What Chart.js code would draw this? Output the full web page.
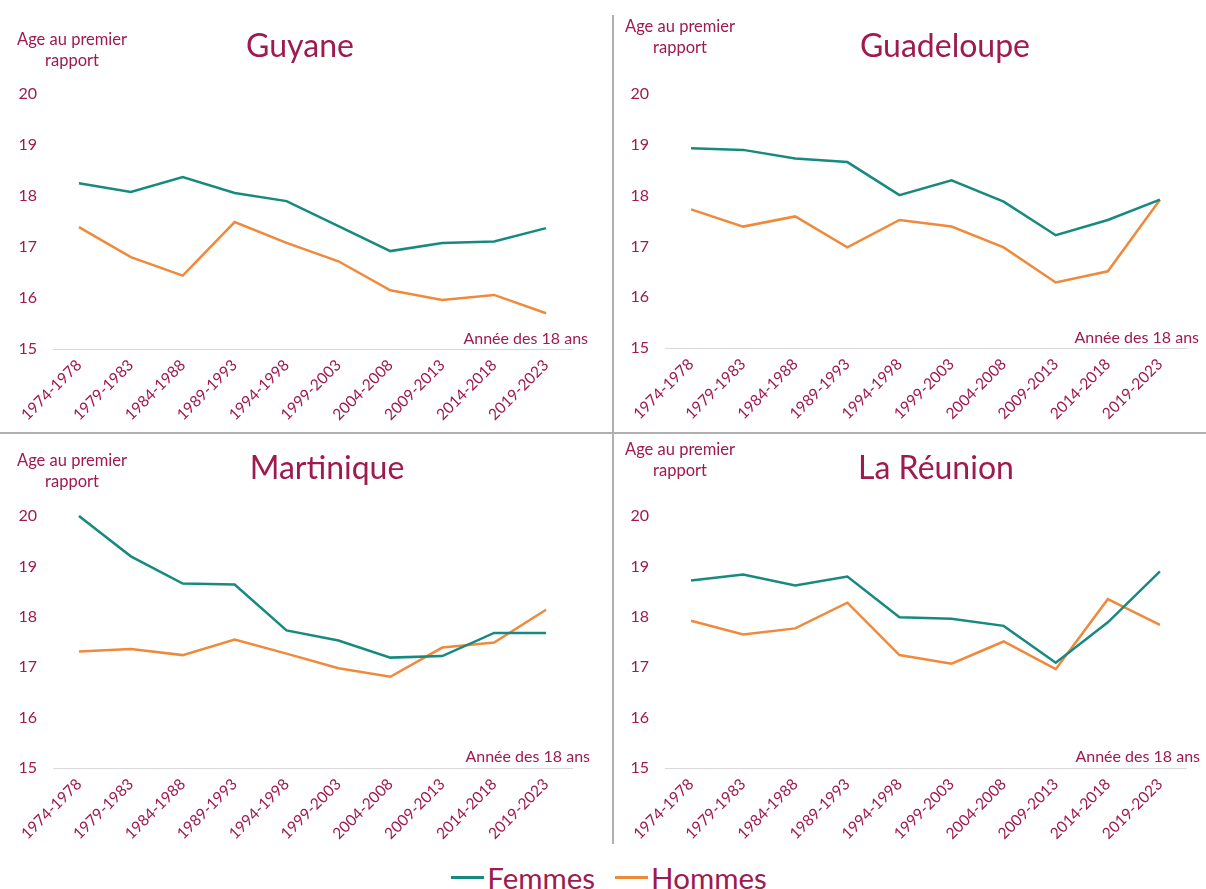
<!DOCTYPE html>
<html>
<head>
<meta charset="utf-8">
<script src="https://cdn.jsdelivr.net/npm/chart.js@4.4.1/dist/chart.umd.min.js"></script>
<style>
  html, body { margin: 0; padding: 0; background: #ffffff; }
  #wrap { position: relative; width: 1206px; height: 889px; background: #ffffff; overflow: hidden; font-family: Lato, "Open Sans", sans-serif; }
  canvas { position: absolute; }
  .sep { position: absolute; background: #b0b0b0; z-index: 5; }
  #legend { position: absolute; left: 6px; top: 859px; width: 1206px; height: 36px; display: flex; justify-content: center; gap: 20px; z-index: 6; white-space: nowrap; }
  .lg { display: inline-flex; align-items: center; color: #9e1a4f; font-size: 29.5px; font-family: Lato, sans-serif; }
  .lg i { display: inline-block; width: 33px; height: 3px; margin-right: 3px; }
</style>
</head>
<body>
<div id="wrap">
  <canvas id="c0" width="613" height="433" style="left:0px;top:0px"></canvas>
  <canvas id="c1" width="592" height="433" style="left:614px;top:0px"></canvas>
  <canvas id="c2" width="613" height="416" style="left:0px;top:434px"></canvas>
  <canvas id="c3" width="592" height="416" style="left:614px;top:434px"></canvas>
  <div class="sep" style="left:612px;top:15px;width:2px;height:829px"></div>
  <div class="sep" style="left:0px;top:432px;width:1206px;height:2px"></div>
  <div id="legend">
    <span class="lg"><i style="background:#178a80"></i>Femmes</span>
    <span class="lg"><i style="background:#ef8a3c"></i>Hommes</span>
  </div>
</div>
<script>
// ---- Data ----
const categories = ['1974-1978','1979-1983','1984-1988','1989-1993','1994-1998','1999-2003','2004-2008','2009-2013','2014-2018','2019-2023'];
const yTicks = [15, 16, 17, 18, 19, 20];
const seriesNames = ['Femmes', 'Hommes'];
const regions = ['Guyane', 'Guadeloupe', 'Martinique', 'La Réunion'];

const guyaneFemmes     = [18.25, 18.08, 18.37, 18.06, 17.90, 17.41, 16.92, 17.08, 17.11, 17.37];
const guyaneHommes     = [17.39, 16.80, 16.44, 17.49, 17.08, 16.72, 16.15, 15.96, 16.06, 15.70];
const guadeloupeFemmes = [18.93, 18.90, 18.73, 18.66, 18.01, 18.30, 17.88, 17.22, 17.52, 17.92];
const guadeloupeHommes = [17.73, 17.39, 17.59, 16.98, 17.52, 17.39, 16.98, 16.29, 16.51, 17.92];
const martiniqueFemmes = [20.00, 19.20, 18.66, 18.64, 17.73, 17.53, 17.19, 17.22, 17.68, 17.68];
const martiniqueHommes = [17.31, 17.36, 17.24, 17.55, 17.27, 16.98, 16.81, 17.39, 17.49, 18.14];
const reunionFemmes    = [18.72, 18.84, 18.62, 18.80, 17.99, 17.96, 17.82, 17.09, 17.89, 18.90];
const reunionHommes    = [17.92, 17.65, 17.77, 18.28, 17.24, 17.07, 17.51, 16.96, 18.35, 17.84];

const yTitleLines = ['Age au premier', 'rapport'];
const xTitle = 'Année des 18 ans';

// ---- Styles ----
const MAROON = '#9e1a4f';
const TEAL = '#178a80';
const ORANGE = '#ef8a3c';
const FONT = 'Lato, "Open Sans", sans-serif';

const panels = [
  { id: 'c0', title: regions[0], f: guyaneFemmes, h: guyaneHommes,
    area: { left: 53, right: 41, top: 94, xh: 84 },
    titleX: 300, titleY: 57, yt: { x: 72, y1: 45, y2: 66 }, xt: { x: 588, y: 344 } },
  { id: 'c1', title: regions[1], f: guadeloupeFemmes, h: guadeloupeHommes,
    area: { left: 51, right: 20, top: 94, xh: 85 },
    titleX: 331, titleY: 57, yt: { x: 66, y1: 32, y2: 53 }, xt: { x: 585, y: 343 } },
  { id: 'c2', title: regions[2], f: martiniqueFemmes, h: martiniqueHommes,
    area: { left: 53, right: 41, top: 82, xh: 82 },
    titleX: 327, titleY: 45, yt: { x: 72, y1: 32, y2: 53 }, xt: { x: 590, y: 328 } },
  { id: 'c3', title: regions[3], f: reunionFemmes, h: reunionHommes,
    area: { left: 51, right: 20, top: 82, xh: 82 },
    titleX: 322, titleY: 45, yt: { x: 66, y1: 21, y2: 42 }, xt: { x: 586, y: 328 } }
];

const annotate = {
  id: 'annotate',
  afterDraw(chart, args, opts) {
    const p = opts.panel;
    const ctx = chart.ctx;
    ctx.save();
    ctx.fillStyle = MAROON;
    ctx.textBaseline = 'alphabetic';
    ctx.textAlign = 'center';
    ctx.font = '32px ' + FONT;
    ctx.fillText(p.title, p.titleX, p.titleY);
    ctx.font = '16.5px ' + FONT;
    ctx.fillText(yTitleLines[0], p.yt.x, p.yt.y1);
    ctx.fillText(yTitleLines[1], p.yt.x, p.yt.y2);
    ctx.textAlign = 'right';
    ctx.font = '16px ' + FONT;
    ctx.fillText(xTitle, p.xt.x, p.xt.y);
    ctx.restore();
  }
};

panels.forEach(p => {
  new Chart(document.getElementById(p.id), {
    type: 'line',
    data: {
      labels: categories,
      datasets: [
        { label: seriesNames[0], data: p.f, borderColor: TEAL, backgroundColor: TEAL, borderWidth: 2.5, pointRadius: 0, tension: 0, clip: false },
        { label: seriesNames[1], data: p.h, borderColor: ORANGE, backgroundColor: ORANGE, borderWidth: 2.5, pointRadius: 0, tension: 0, clip: false }
      ]
    },
    options: {
      responsive: false,
      animation: false,
      layout: { padding: { left: 0, right: p.area.right, top: p.area.top, bottom: 0 } },
      plugins: {
        legend: { display: false },
        tooltip: { enabled: false },
        annotate: { panel: p }
      },
      scales: {
        x: {
          offset: true,
          grid: { display: false, drawTicks: false },
          border: { display: true, color: '#d9d9d9', width: 1 },
          ticks: { color: MAROON, font: { family: FONT, size: 15.5 }, minRotation: 45, maxRotation: 45, autoSkip: false, padding: 7 },
          afterFit(scale) { scale.height = p.area.xh; }
        },
        y: {
          min: yTicks[0], max: yTicks[yTicks.length - 1],
          afterBuildTicks(scale) { scale.ticks = yTicks.map(v => ({ value: v })); },
          grid: { display: false, drawTicks: false },
          border: { display: false },
          ticks: { color: MAROON, font: { family: FONT, size: 16 }, padding: 16 },
          afterFit(scale) { scale.width = p.area.left; }
        }
      }
    },
    plugins: [annotate]
  });
});
</script>
</body>
</html>
